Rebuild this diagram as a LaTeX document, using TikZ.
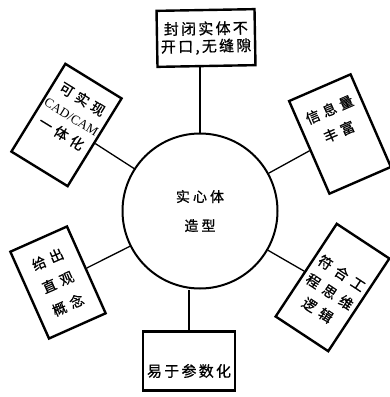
\documentclass[tikz,border=0pt]{standalone}
\usepackage{fontspec}
\setmainfont{Liberation Serif}
\newfontfamily\cjk[FakeBold=0.8]{Noto Sans CJK SC}
\newcommand\mlines[2]{\raisebox{#1}[\height][\depth]{\begin{tabular}{@{}c@{}}#2\end{tabular}}}
\tikzset{
  box/.style={draw, rectangle, line width=2.4pt, inner sep=0pt},
  hub/.style={draw, circle, line width=2pt, minimum size=155pt, inner sep=0pt},
  link/.style={line width=1.3pt},
}
\begin{document}
\begin{tikzpicture}[x=1pt,y=-1pt]
\fill[white] (0,0) rectangle (390,397);
\useasboundingbox (0,0) rectangle (390,397);

\node[hub, align=center, font=\cjk\fontsize{14pt}{29pt}\selectfont\addfontfeatures{LetterSpace=22}] (c) at (200,211) {实心体\\造型};

\node[box, rotate=1, minimum width=98pt, minimum height=56pt, align=center,
      font=\cjk\fontsize{15pt}{17.5pt}\selectfont\addfontfeatures{LetterSpace=15}] (t) at (206,38) {封闭实体不\\开口,无缝隙};

\node[box, minimum width=92pt, minimum height=59pt,
      font=\cjk\fontsize{15pt}{18pt}\selectfont\addfontfeatures{LetterSpace=15}] (b) at (189,361) {\raisebox{-10pt}[\height][\depth]{易于参数化}};

\node[box, rotate=23.5, minimum width=67pt, minimum height=101pt,
      font=\cjk\fontsize{14pt}{24pt}\selectfont\addfontfeatures{LetterSpace=30}] (ur) at (340,134) {\mlines{14pt}{信息量\\丰富}};

\node[box, rotate=-33.4, minimum width=63pt, minimum height=111pt,
      font=\cjk\fontsize{14pt}{22pt}\selectfont\addfontfeatures{LetterSpace=40}] (lr) at (332.5,287.5) {\mlines{-6pt}{符合工\\程思维\\逻辑}};

\node[box, rotate=24, minimum width=62pt, minimum height=95pt,
      font=\cjk\fontsize{14pt}{25pt}\selectfont\addfontfeatures{LetterSpace=35}] (ll) at (58,282.5) {\mlines{0pt}{给出\\直观\\概念}};

\node[box, rotate=-31.6, minimum width=66pt, minimum height=103pt,
      font=\cjk\fontsize{14pt}{20pt}\selectfont\addfontfeatures{LetterSpace=30}] (ul) at (66.5,125) {\mlines{9pt}{可实现\\{\rmfamily\fontsize{13pt}{20pt}\selectfont CAD/CAM}\\一体化}};

\draw[link] (c.north) -- (c.north |- t.south);
\draw[link] (b.north) -- (b.north |- c.south);
\draw[link] (ur) -- (c);
\draw[link] (lr) -- (c);
\draw[link] (ll) -- (c);
\draw[link] (ul) -- (c);
\end{tikzpicture}
\end{document}
